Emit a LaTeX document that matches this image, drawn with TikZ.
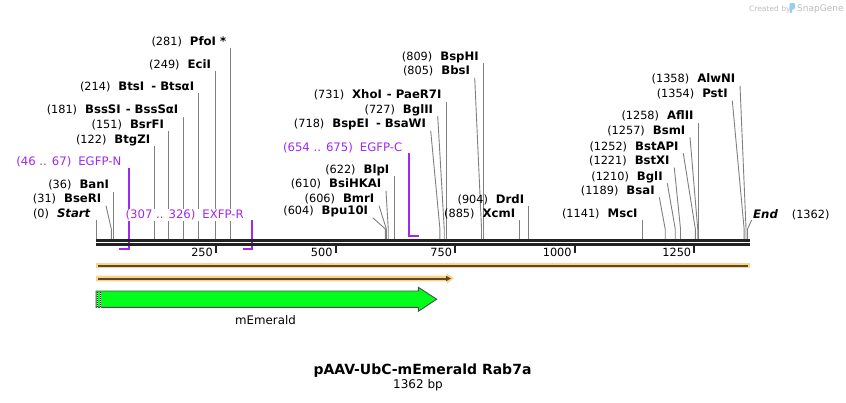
\documentclass[tikz,border=0pt]{standalone}
\usepackage{fontspec}
\setmainfont{DejaVu Sans}
\definecolor{leadgray}{RGB}{128,128,128}
\definecolor{primer}{RGB}{160,40,240}
\definecolor{bbone}{RGB}{34,34,34}
\definecolor{orbar}{RGB}{253,210,138}
\definecolor{orline}{RGB}{90,72,45}
\definecolor{gfp}{RGB}{0,255,26}
\definecolor{gfpedge}{RGB}{77,77,77}
\definecolor{logogray}{RGB}{190,190,190}
\definecolor{logoblue}{RGB}{150,205,240}
\newcommand\numf{\fontsize{11.3}{13}\selectfont}
\newcommand\namef{\fontsize{11.7}{13}\selectfont\bfseries}
\newcommand\primf{\fontsize{11.7}{13}\selectfont}
\newcommand\enzS[3]{% bp, top y, name
  \draw[lead] ({96.5+#1*0.4783},239) -- ({96.5+#1*0.4783},#2) coordinate (t#1);
  \node[lab] (l#1) at ([xshift=-4.5pt,yshift=3pt]t#1) {{\numf(#1)}\hspace{8pt}{\namef #3}};
}
\newcommand\enzL[4]{% bp, tx, ty, name
  \draw[lead] ({96.5+#1*0.4783},239) -- ({96.5+#1*0.4783},229) -- (#2,#3) coordinate (t#1);
  \node[lab] (l#1) at ([xshift=-4.5pt,yshift=3pt]t#1) {{\numf(#1)}\hspace{8pt}{\namef #4}};
}
\newcommand\tickmk[1]{%
  \draw[bbone, line width=2pt] ({96.5+#1*0.4783},246) -- ({96.5+#1*0.4783},253) coordinate (k#1);
  \node[anchor=base east, inner sep=0pt] (kl#1) at ([xshift=-3pt,yshift=-3pt]k#1) {\numf #1};
}
\tikzset{
  lead/.style={draw=leadgray, line width=0.9pt},
  lab/.style={anchor=base east, inner sep=0pt},
  primerline/.style={draw=primer, line width=2pt},
  primerlab/.style={anchor=base east, inner sep=0pt, text=primer},
}
\begin{document}
\begin{tikzpicture}[x=1pt,y=-1pt]
\useasboundingbox[fill=white] (0,0) rectangle (846,402);

% logo
\node[anchor=base west, inner sep=0pt, text=logogray, font=\fontsize{7.5}{8}\selectfont] (cb) at (749,11) {Created by};
\fill[logoblue, rounded corners=1pt] (789.5,3) -- (795,3) -- (795,9) -- (792,9) -- (792,13) -- (789.5,13) -- cycle;
\node[anchor=base west, inner sep=0pt, text=logogray, font=\fontsize{9}{10}\selectfont] (sg) at (797,11) {SnapGene};

% enzymes
\draw[lead] (96.5,239) -- (96.5,220) coordinate (t0);
\node[lab] (l0) at ([xshift=-6pt,yshift=3pt]t0) {{\numf(0)}\hspace{8pt}{\namef\itshape Start}};
\enzL{31}{106}{205.7}{BseRI}
\enzS{36}{191.7}{BanI}
\enzS{122}{146}{BtgZI}
\enzS{151}{131}{BsrFI}
\enzS{181}{116.7}{BssSI\hspace{5pt}- BssSαI}
\enzS{214}{93}{BtsI\hspace{3pt} - BtsαI}
\enzS{249}{71}{EciI}
\enzS{281}{48}{PfoI *}
\enzL{604}{372.7}{217.7}{Bpu10I}
\enzL{606}{379}{205.7}{BmrI}
\enzL{610}{386}{190.7}{BsiHKAI}
\enzS{622}{176}{BlpI}
\enzL{718}{430.7}{130.7}{BspEI\hspace{3pt} - BsaWI}
\enzL{727}{437.7}{116}{BglII}
\enzS{731}{101.7}{XhoI\hspace{5pt}- PaeR7I}
\enzL{805}{474.7}{77.7}{BbsI}
\enzS{809}{63.3}{BspHI}
\enzS{885}{220}{XcmI}
\enzS{904}{206}{DrdI}
\enzS{1141}{220}{MscI}
\enzL{1189}{659.3}{197.3}{BsaI}
\enzL{1210}{667.3}{183.3}{BglI}
\enzL{1221}{674.3}{167.7}{BstXI}
\enzL{1252}{683.3}{153.3}{BstAPI}
\enzL{1257}{690}{137.3}{BsmI}
\enzS{1258}{122.7}{AflII}
\enzL{1354}{732.3}{100.7}{PstI}
\enzL{1358}{740}{85.7}{AlwNI}
\draw[lead] (747.5,239) -- (747.5,229) -- (751.7,220) coordinate (tend);
\node[anchor=base west, inner sep=0pt] (lend) at (753,218) {{\namef\itshape End}\hspace{14pt}{\numf(1362)}};

% primers
\draw[primerline] (118.5,249) -- (128.5,249) -- (128.5,168) coordinate (pn);
\node[primerlab] (lpn) at (121.5,165.5) {\primf(46 .. 67)\hspace{7pt}EGFP-N};
\draw[primerline] (243.3,249) -- (252.3,249) -- (252.3,220) coordinate (pr);
\node[primerlab, fill=white, inner xsep=0.5pt, inner ysep=1pt] (lpr) at (244.5,218.5) {\primf(307 .. 326)\hspace{7pt}EXFP-R};
\draw[primerline] (419.2,236) -- (409.3,236) -- (409.3,153) coordinate (pc);
\node[primerlab] (lpc) at (402.5,151) {\primf(654 .. 675)\hspace{7pt}EGFP-C};

% backbone
\draw[bbone, line width=3pt] (96,240.5) -- (750,240.5);
\draw[bbone, line width=3pt] (96,244.5) -- (750,244.5);
\tickmk{250}
\tickmk{500}
\tickmk{750}
\tickmk{1000}
\tickmk{1250}

% orange features
\fill[orbar] (96,262.7) rectangle (750,268.3);
\draw[orline, line width=2pt] (98,265.5) -- (748,265.5);
\fill[orbar] (96,275.7) -- (446.7,275.7) -- (446.7,273.3) -- (454,278.5) -- (446.7,283.7) -- (446.7,281.3) -- (96,281.3) -- cycle;
\draw[orline, line width=2pt] (98,278.5) -- (446,278.5);
\fill[orline] (446,275.8) -- (451,278.5) -- (446,281.2) -- cycle;

% mEmerald
\draw[gfpedge, fill=gfp, line width=0.9pt] (96,291) -- (418.3,291) -- (418.3,287.3) -- (436.7,299.2) -- (418.3,311.3) -- (418.3,307.3) -- (96,307.3) -- cycle;
\draw[black, line width=1pt, dash pattern=on 1pt off 1pt] (97.7,291.5) -- (97.7,307);
\draw[black, line width=1pt, dash pattern=on 1pt off 1pt] (100.3,291.5) -- (100.3,307);
\draw[white, line width=1pt, dash pattern=on 1pt off 1pt, dash phase=1pt] (97.7,291.5) -- (97.7,307);
\draw[white, line width=1pt, dash pattern=on 1pt off 1pt, dash phase=1pt] (100.3,291.5) -- (100.3,307);
\node[inner sep=0pt, font=\fontsize{11.8}{13}\selectfont] (mem) at (265.5,320.5) {mEmerald};

% title
\node[inner sep=0pt, font=\fontsize{14}{16}\selectfont\bfseries] (title) at (422.5,370.5) {pAAV-UbC-mEmerald Rab7a};
\node[inner sep=0pt, font=\fontsize{12}{13}\selectfont] (bp) at (418,385) {1362 bp};
\end{tikzpicture}
\end{document}
